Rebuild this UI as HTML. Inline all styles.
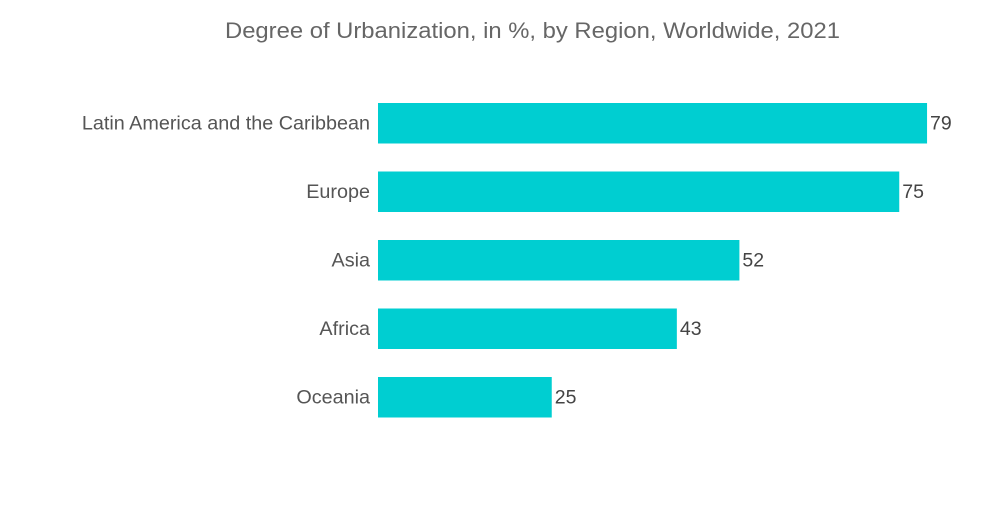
<!DOCTYPE html>
<html>
<head>
<meta charset="utf-8">
<style>
  html,body{margin:0;padding:0;background:#fff;}
  body{width:1000px;height:504px;overflow:hidden;font-family:"Liberation Sans",sans-serif;}
  svg text{font-family:"Liberation Sans",sans-serif;}
</style>
</head>
<body>
<svg id="chart" width="1000" height="504">
  <text x="225" y="38" font-size="22" fill="#666" textLength="615" lengthAdjust="spacingAndGlyphs">Degree of Urbanization, in %, by Region, Worldwide, 2021</text>
  <g id="bars"></g>
</svg>
<script>
const categories = ["Latin America and the Caribbean","Europe","Asia","Africa","Oceania"];
const values = [79,75,52,43,25];
const valueLabels = ["79","75","52","43","25"];

const x0 = 378, pxPerUnit = 6.95;
const xScale = v => x0 + v * pxPerUnit;
const rowTop = 103, rowStep = 68.5, barH = 40.5;
const yScale = i => rowTop + i * rowStep;

const ns = "http://www.w3.org/2000/svg";
const g = document.getElementById("bars");
categories.forEach((c, i) => {
  const y = yScale(i);
  const r = document.createElementNS(ns, "rect");
  r.setAttribute("x", x0);
  r.setAttribute("y", y);
  r.setAttribute("width", xScale(values[i]) - x0);
  r.setAttribute("height", barH);
  r.setAttribute("fill", "#00CED1");
  
  
  g.appendChild(r);

  const l = document.createElementNS(ns, "text");
  l.setAttribute("x", x0 - 8);
  l.setAttribute("y", y + barH / 2 + 6);
  l.setAttribute("text-anchor", "end");
  l.setAttribute("font-size", "19.8");
  l.setAttribute("fill", "#555");
  l.textContent = c;
  
  
  g.appendChild(l);

  const v = document.createElementNS(ns, "text");
  v.setAttribute("x", xScale(values[i]) + 3);
  v.setAttribute("y", y + barH / 2 + 6);
  v.setAttribute("font-size", "19.5");
  v.setAttribute("fill", "#444");
  v.textContent = valueLabels[i];
  
  
  g.appendChild(v);
});
</script>
</body>
</html>
